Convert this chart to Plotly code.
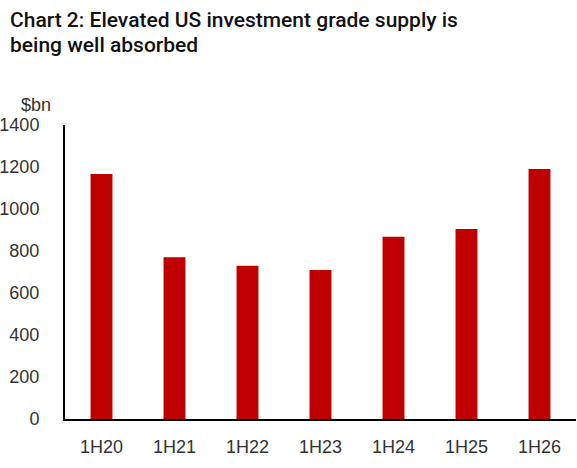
import plotly.graph_objects as go

# half-year US IG supply, $bn
periods = ["1H20", "1H21", "1H22", "1H23", "1H24", "1H25", "1H26"]
supply = [1167, 770, 730, 710, 868, 905, 1190]
y_ticks = [0, 200, 400, 600, 800, 1000, 1200, 1400]
title_lines = ["Chart 2: Elevated US investment grade supply is", "being well absorbed"]

# figure fills the whole window (body margin removed below)
W, H = 577, 468
L, R, T, B = 65, 1, 125, 49
PW, PH = W - L - R, H - T - B


def px_x(x):
    # page pixel x -> paper coordinate
    return (x - L) / PW


def px_y(y):
    # page pixel y -> paper coordinate
    return (H - B - y) / PH


fig = go.Figure(
    go.Bar(
        x=periods,
        y=supply,
        marker=dict(color="#C00000", line=dict(width=0)),
        width=0.3,
    )
)

title_font = dict(family="Roboto, Liberation Sans, Arial, sans-serif", size=21,
                  color="#111111", weight=500)
annotations = [
    dict(text=title_lines[0], x=px_x(8), y=px_y(20)),
    dict(text=title_lines[1], x=px_x(8), y=px_y(45)),
]
for a in annotations:
    a.update(xref="paper", yref="paper", xanchor="left", yanchor="middle",
             showarrow=False, font=title_font)
annotations.append(
    dict(text="$bn", x=px_x(53), y=px_y(105), xref="paper", yref="paper",
         xanchor="right", yanchor="middle", showarrow=False,
         font=dict(size=18, color="#333333"))
)

fig.update_layout(
    width=W,
    height=H,
    margin=dict(l=L, r=R, t=T, b=B, autoexpand=False),
    paper_bgcolor="white",
    plot_bgcolor="white",
    showlegend=False,
    font=dict(family="Liberation Sans, Arial, sans-serif", color="#333333", size=18),
    annotations=annotations,
)

fig.update_yaxes(
    range=[0, 1400],
    tickvals=y_ticks,
    showgrid=False,
    zeroline=False,
    showline=True,
    linecolor="black",
    linewidth=2,
    ticks="",
    ticklabelstandoff=20,
    automargin=False,
)
fig.update_xaxes(
    showgrid=False,
    showline=True,
    linecolor="black",
    linewidth=2,
    ticks="",
    ticklabelstandoff=10,
    automargin=False,
)

fig.write_html("out.html", config={"displayModeBar": False},
               post_script="document.body.style.margin = '0px';")
